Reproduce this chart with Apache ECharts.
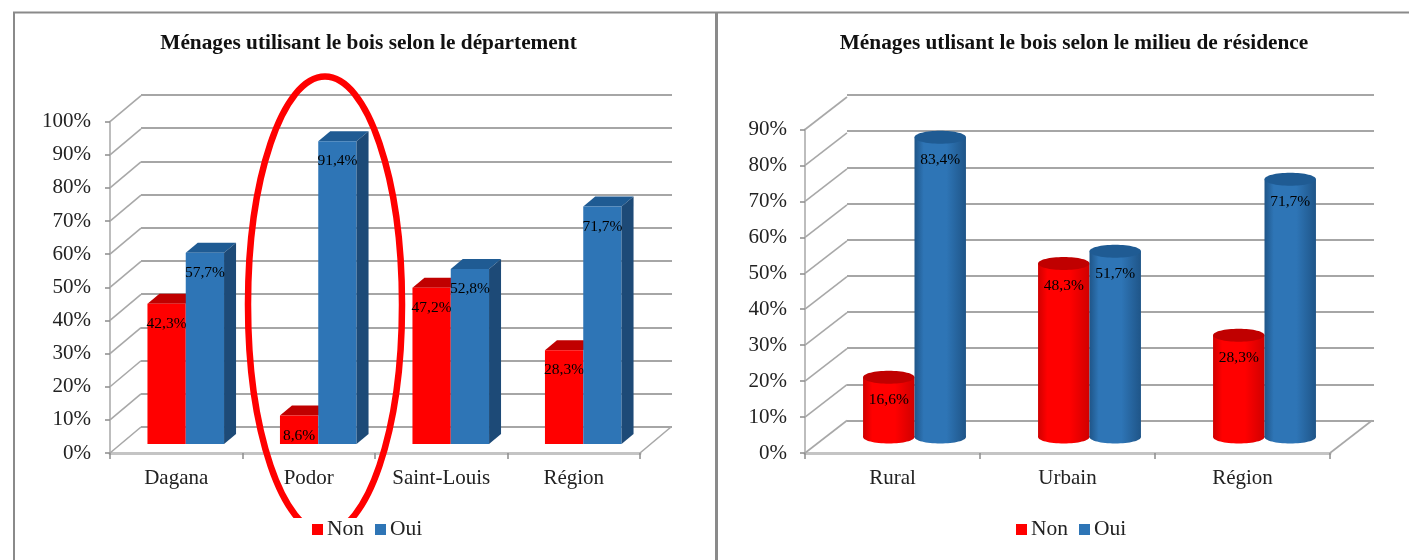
<!DOCTYPE html>
<html>
<head>
<meta charset="utf-8">
<style>html,body{margin:0;padding:0;background:#fff}#c{width:1409px;height:560px}</style>
<script src="https://cdn.jsdelivr.net/npm/echarts@6/dist/echarts.min.js"></script>
</head>
<body>
<div id="c"></div>
<script>
// Household wood use, by department and by place of residence
const departements = ['Dagana', 'Podor', 'Saint-Louis', 'Région'];
const departementNon = [42.3, 8.6, 47.2, 28.3];
const departementOui = [57.7, 91.4, 52.8, 71.7];
const milieux = ['Rural', 'Urbain', 'Région'];
const milieuNon = [16.6, 48.3, 28.3];
const milieuOui = [83.4, 51.7, 71.7];
const ticksDepartement = [0, 10, 20, 30, 40, 50, 60, 70, 80, 90, 100];
const ticksMilieu = [0, 10, 20, 30, 40, 50, 60, 70, 80, 90];

const SERIF = '"Liberation Serif","Times New Roman",serif';
const RED = { front: '#ff0000', top: '#c00000', edge: '#d00000' };
const BLUE = { front: '#2e75b6', top: '#1f5b93', side: '#1d4a77', edge: '#1f5588' };

const pct = v => v + '%';
const frText = v => v.toFixed(1).replace('.', ',') + '%';

// Prism columns of the department chart; each side of the pair is placed from its band.
function prism(c, side) {
  return function (params, api) {
    const band = api.size([1, 0])[0];
    const w = band * 0.289, dx = 12, dy = 10;
    const top = api.coord([api.value(0), api.value(1)]);
    const base = api.coord([api.value(0), 0]);
    const x0 = top[0] + 9.5 + (side < 0 ? -w : 0), x1 = x0 + w;
    const yb = base[1] - 9, yt = yb - (base[1] - top[1]);
    const children = [
      { type: 'polygon', shape: { points: [[x0, yt], [x0 + dx, yt - dy], [x1 + dx, yt - dy], [x1, yt]] }, style: { fill: c.top } },
      { type: 'rect', shape: { x: x0, y: yt, width: w, height: yb - yt }, style: { fill: c.front } }
    ];
    if (side > 0) {
      children.push({ type: 'polygon', shape: { points: [[x1, yt], [x1 + dx, yt - dy], [x1 + dx, yb - dy], [x1, yb]] }, style: { fill: c.side } });
    }
    children.push({ type: 'text', style: { text: frText(api.value(1)), x: (x0 + x1) / 2, y: yt + 20, align: 'center', verticalAlign: 'middle', font: '15.5px ' + SERIF, fill: '#000' } });
    return { type: 'group', children };
  };
}

// Cylinder columns of the residence chart.
function cylinder(c, side) {
  return function (params, api) {
    const band = api.size([1, 0])[0];
    const rx = band * 0.147, ry = 6.5;
    const top = api.coord([api.value(0), api.value(1)]);
    const base = api.coord([api.value(0), 0]);
    const cx = top[0] + 22 + (side < 0 ? -rx : rx);
    const yb = base[1] - 16, yt = yb - (base[1] - top[1]);
    const fill = { type: 'linear', x: 0, y: 0, x2: 1, y2: 0, colorStops: [
      { offset: 0, color: c.edge }, { offset: 0.18, color: c.front }, { offset: 0.62, color: c.front }, { offset: 1, color: c.edge }
    ] };
    return { type: 'group', children: [
      { type: 'ellipse', shape: { cx, cy: yb, rx, ry }, style: { fill } },
      { type: 'rect', shape: { x: cx - rx, y: yt, width: rx * 2, height: yb - yt }, style: { fill } },
      { type: 'ellipse', shape: { cx, cy: yt, rx, ry }, style: { fill: c.top } },
      { type: 'text', style: { text: frText(api.value(1)), x: cx, y: yt + 23, align: 'center', verticalAlign: 'middle', font: '15.5px ' + SERIF, fill: '#000' } }
    ] };
  };
}

// Slanted wall lines from each value tick to the back plane, plus the floor's right edge.
function wallLines(depthX, depthY, count) {
  return function (params, api) {
    const p = api.coord([0, api.value(0)]);
    const band = api.size([1, 0])[0];
    const x = p[0] - band / 2;
    const style = { stroke: '#a8a8a8', lineWidth: 1.6, fill: null };
    const kids = [{ type: 'line', shape: { x1: x, y1: p[1], x2: x + depthX, y2: p[1] - depthY }, style }];
    if (api.value(0) === 0) {
      const xr = x + band * count;
      kids.push({ type: 'line', shape: { x1: xr, y1: p[1], x2: xr + depthX, y2: p[1] - depthY }, style });
    }
    return { type: 'group', children: kids };
  };
}

const valueAxis = (gridIndex, max, margin) => ({
  type: 'value', gridIndex, min: 0, max, interval: 10,
  axisLine: { show: true, lineStyle: { color: '#bdbdbd', width: 2 } },
  axisTick: { show: true, length: 5, lineStyle: { color: '#8c8c8c', width: 1.5 } },
  axisLabel: { formatter: pct, margin, fontFamily: SERIF, fontSize: 21, color: '#222' },
  splitLine: { show: false }
});
const categoryAxis = (gridIndex, data) => ({
  type: 'category', gridIndex, data,
  axisLine: { show: true, lineStyle: { color: '#c4c4c4', width: 3 } },
  axisTick: { show: true, length: 6, alignWithLabel: false, lineStyle: { color: '#8c8c8c', width: 1.5 } },
  axisLabel: { margin: 15, fontFamily: SERIF, fontSize: 21, color: '#222', interval: 0 }
});
const backValueAxis = (gridIndex, max) => ({
  type: 'value', gridIndex, min: 0, max, interval: 10,
  axisLine: { show: false }, axisTick: { show: false }, axisLabel: { show: false },
  splitLine: { show: true, lineStyle: { color: '#a6a6a6', width: 2 } }
});
const backCategoryAxis = (gridIndex, data) => ({
  type: 'category', gridIndex, data,
  axisLine: { show: false }, axisTick: { show: false }, axisLabel: { show: false }, splitLine: { show: false }
});

const rows = a => a.map((v, i) => [i, v]);
const legend = left => ({
  left, top: 513.5, z: 40, itemWidth: 11, itemHeight: 11, itemGap: 11, icon: 'rect',
  data: ['Non', 'Oui'], selectedMode: false,
  textStyle: { fontFamily: SERIF, fontSize: 21.5, color: '#222', padding: [0, 0, 0, -1] }
});
const title = (text, left) => ({
  text, left, top: 28, textAlign: 'center',
  textStyle: { fontFamily: SERIF, fontSize: 21.3, fontWeight: 'bold', color: '#111' }
});
const custom = (name, x, y, renderItem, data, color, z) => ({
  type: 'custom', name, xAxisIndex: x, yAxisIndex: y, renderItem, data, z,
  encode: { x: 0, y: 1 }, itemStyle: { color }, silent: true, clip: false, animation: false
});
const wall = (x, y, renderItem, ticks) => ({
  type: 'custom', xAxisIndex: x, yAxisIndex: y, renderItem, data: ticks.map(v => [v]),
  encode: { y: 0 }, silent: true, clip: false, animation: false, z: 1
});

const option = {
  backgroundColor: '#fff',
  animation: false,
  title: [title('Ménages utilisant le bois selon le département', 363.5),
          title('Ménages utlisant le bois selon le milieu de résidence', 1069)],
  legend: [legend(307), legend(1011)],
  grid: [
    { left: 110, top: 121.7, width: 530, height: 331.3 },
    { left: 141, top: 95, width: 531, height: 332 },
    { left: 805, top: 129.5, width: 525, height: 323.5 },
    { left: 847, top: 95, width: 527, height: 325.5 }
  ],
  xAxis: [categoryAxis(0, departements), backCategoryAxis(1, departements),
          categoryAxis(2, milieux), backCategoryAxis(3, milieux)],
  yAxis: [valueAxis(0, 100, 19), backValueAxis(1, 100), valueAxis(2, 90, 18), backValueAxis(3, 90)],
  series: [
    wall(0, 0, wallLines(31, 26, departements.length), ticksDepartement),
    wall(2, 2, wallLines(42, 32.5, milieux.length), ticksMilieu),
    custom('Non', 0, 0, prism(RED, -1), rows(departementNon), RED.front, 3),
    custom('Oui', 0, 0, prism(BLUE, 1), rows(departementOui), BLUE.front, 4),
    custom('Non', 2, 2, cylinder(RED, -1), rows(milieuNon), RED.front, 3),
    custom('Oui', 2, 2, cylinder(BLUE, 1), rows(milieuOui), BLUE.front, 4)
  ],
  graphic: { elements: [
    // Panel frame
    { type: 'polyline', z: 20, shape: { points: [[14, 560], [14, 12.5], [1409, 12.5]] }, style: { stroke: '#8a8a8a', lineWidth: 2, fill: null } },
    { type: 'line', z: 20, shape: { x1: 716.5, y1: 12, x2: 716.5, y2: 560 }, style: { stroke: '#8a8a8a', lineWidth: 3 } },
    // Hand-drawn highlight around Podor, cut off where the legend sits
    { type: 'ellipse', z: 30, shape: { cx: 325, cy: 304.6, rx: 77, ry: 228 }, style: { fill: null, stroke: '#ff0000', lineWidth: 6.5 } },
    { type: 'rect', z: 31, shape: { x: 270, y: 518, width: 110, height: 22 }, style: { fill: '#fff' } }
  ] }
};

const chart = echarts.init(document.getElementById('c'), null, { renderer: 'canvas' });
chart.setOption(option);
</script>
</body>
</html>
